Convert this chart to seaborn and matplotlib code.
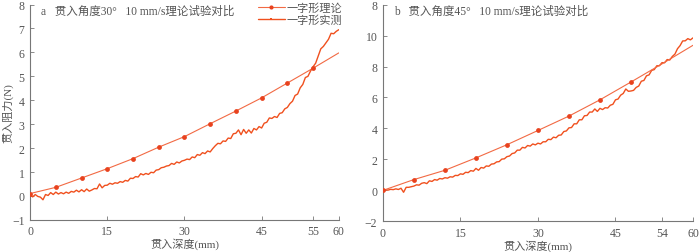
import matplotlib
matplotlib.use('Agg')
import matplotlib.pyplot as plt
from matplotlib.lines import Line2D
import numpy as np
import pandas as pd
import seaborn as sns

# 数据
theory_x_a = [0, 5, 10, 15, 20, 25, 30, 35, 40, 45, 50, 55, 60]
theory_y_a = [0.1, 0.36, 0.75, 1.14, 1.56, 2.04, 2.48, 3.02, 3.55, 4.1, 4.72, 5.34, 5.98]

theory_x_b = [0, 6, 12, 18, 24, 30, 36, 42, 48, 54, 60]
theory_y_b = [0.0, 0.7, 1.3, 2.1, 2.95, 3.87, 4.8, 5.85, 7.0, 8.17, 9.37]

depth = np.arange(0, 60.5, 0.5)

measured_a = [0.05, -0.04, 0.06, -0.02, -0.05, -0.16, 0.06, 0.02, 0.14, 0.06,
              0.16, 0.08, 0.14, 0.09, 0.16, 0.11, 0.19, 0.16, 0.24, 0.17,
              0.26, 0.18, 0.29, 0.2, 0.25, 0.31, 0.3, 0.5, 0.34, 0.44,
              0.45, 0.53, 0.49, 0.55, 0.53, 0.6, 0.57, 0.65, 0.62, 0.74,
              0.73, 0.81, 0.79, 0.93, 0.88, 0.94, 0.9, 0.99, 0.97, 1.08,
              1.1, 1.18, 1.2, 1.25, 1.27, 1.36, 1.32, 1.42, 1.38, 1.46,
              1.49, 1.54, 1.52, 1.63, 1.6, 1.73, 1.7, 1.81, 1.77, 1.88,
              1.84, 1.98, 2.1, 2.2, 2.18, 2.3, 2.28, 2.42, 2.4, 2.6,
              2.62, 2.76, 2.56, 2.78, 2.62, 2.76, 2.63, 2.82, 2.76, 2.9,
              2.84, 3.04, 3.08, 3.26, 3.24, 3.32, 3.28, 3.45, 3.48, 3.64,
              3.7, 3.86, 3.96, 4.2, 4.26, 4.52, 4.66, 4.95, 5.0, 5.22,
              5.4, 5.55, 5.85, 6.15, 6.25, 6.4, 6.55, 6.8, 6.78, 6.88,
              6.95]

measured_b = [-0.08, 0.04, 0.02, 0.07, 0.05, 0.1, 0.06, 0.14, -0.12, 0.2,
              0.2, 0.24, 0.28, 0.36, 0.34, 0.46, 0.5, 0.44, 0.62, 0.58,
              0.7, 0.66, 0.77, 0.74, 0.82, 0.79, 0.88, 0.86, 0.97, 0.96,
              1.07, 1.04, 1.17, 1.15, 1.28, 1.24, 1.42, 1.3, 1.48, 1.44,
              1.58, 1.56, 1.7, 1.72, 1.84, 1.86, 2.02, 2.04, 2.18, 2.22,
              2.38, 2.42, 2.6, 2.6, 2.78, 2.74, 2.9, 2.86, 3.0, 2.94,
              3.05, 3.0, 3.14, 3.14, 3.3, 3.28, 3.44, 3.4, 3.56, 3.58,
              3.8, 3.84, 4.04, 4.06, 4.3, 4.3, 4.56, 4.56, 4.82, 4.84,
              5.06, 5.06, 5.26, 5.1, 5.3, 5.22, 5.34, 5.32, 5.5, 5.56,
              5.85, 5.9, 6.15, 6.26, 6.55, 6.4, 6.42, 6.46, 6.65, 6.74,
              7.05, 7.1, 7.4, 7.46, 7.75, 7.8, 8.05, 8.05, 8.25, 8.24,
              8.45, 8.42, 8.65, 8.8, 9.15, 9.35, 9.65, 9.66, 9.8, 9.72,
              9.85]

xticks_a = [0, 15, 30, 45, 55, 60]
xticks_b = [0, 15, 30, 45, 54, 60]
yticks_a = [-1, 0, 1, 2, 3, 4, 5, 6, 7, 8]
yticks_b = [-2, 0, 2, 4, 6, 8, 10, 12]
ylabels_b = ['\u22122', '0', '2', '4', '6', '8', '10', '8']

sns.set_theme(style='ticks')
plt.rcParams['font.family'] = ['Liberation Serif', 'Noto Sans CJK SC']
plt.rcParams['axes.unicode_minus'] = True

c_theory = '#F26A44'
c_marker = '#E8421E'
c_meas = '#F0501E'
gray = '#555555'

fig = plt.figure(figsize=(7, 2.53), dpi=100)
ax1 = fig.add_axes([0.043, 0.127, 0.441, 0.851])
ax2 = fig.add_axes([0.547, 0.121, 0.443, 0.857])


def draw(ax, tx, ty, my, mark_n, xt, yt, ylim, title):
    sns.lineplot(x=depth, y=my, ax=ax, color=c_meas, linewidth=1.0)
    sns.lineplot(x=tx, y=ty, ax=ax, color=c_theory, linewidth=0.8)
    sns.scatterplot(x=tx[:mark_n], y=ty[:mark_n], ax=ax, color=c_marker,
                    s=12, linewidth=0, zorder=5)
    ax.set_xlim(0, 60)
    ax.set_ylim(*ylim)
    ax.set_xticks(xt)
    ax.set_yticks(yt)
    for s in ['top', 'right']:
        ax.spines[s].set_visible(False)
    for s in ['left', 'bottom']:
        ax.spines[s].set_color('#777777')
        ax.spines[s].set_linewidth(0.8)
    ax.tick_params(direction='in', length=3, width=0.6, colors='#777777',
                   labelcolor=gray, labelsize=8.5, pad=4)
    ax.set_xlabel('贯入深度(mm)', fontsize=8, color=gray, labelpad=0)
    ax.set_ylabel('')
    ax.text(0.035, 1.0, title, transform=ax.transAxes, fontsize=8.3,
            color=gray, va='top', ha='left')


draw(ax1, theory_x_a, theory_y_a, measured_a, 12, xticks_a, yticks_a,
     (-1, 8), 'a   贯入角度30°   10 mm/s理论试验对比')
draw(ax2, theory_x_b, theory_y_b, measured_b, 9, xticks_b, yticks_b,
     (-2, 12), 'b   贯入角度45°   10 mm/s理论试验对比')
ax2.set_yticklabels(ylabels_b)
ax1.set_ylabel('贯入阻力(N)', fontsize=8, color=gray)
ax1.yaxis.set_label_coords(-0.055, 0.5)

handles = [
    Line2D([], [], color=c_theory, marker='o', markersize=3,
           markerfacecolor=c_marker, markeredgewidth=0, linewidth=0.8),
    Line2D([], [], color=c_meas, marker='s', markersize=1.8,
           markeredgewidth=0, linewidth=1.0),
]
leg = fig.legend(handles, ['一字形理论', '一字形实测'], loc='upper right',
                 bbox_to_anchor=(0.499, 1.015), frameon=False, fontsize=8,
                 handlelength=2.4, handletextpad=0.2, labelspacing=0.15,
                 borderaxespad=0.2)
for t in leg.get_texts():
    t.set_color(gray)

fig.savefig('out.png', dpi=100)
